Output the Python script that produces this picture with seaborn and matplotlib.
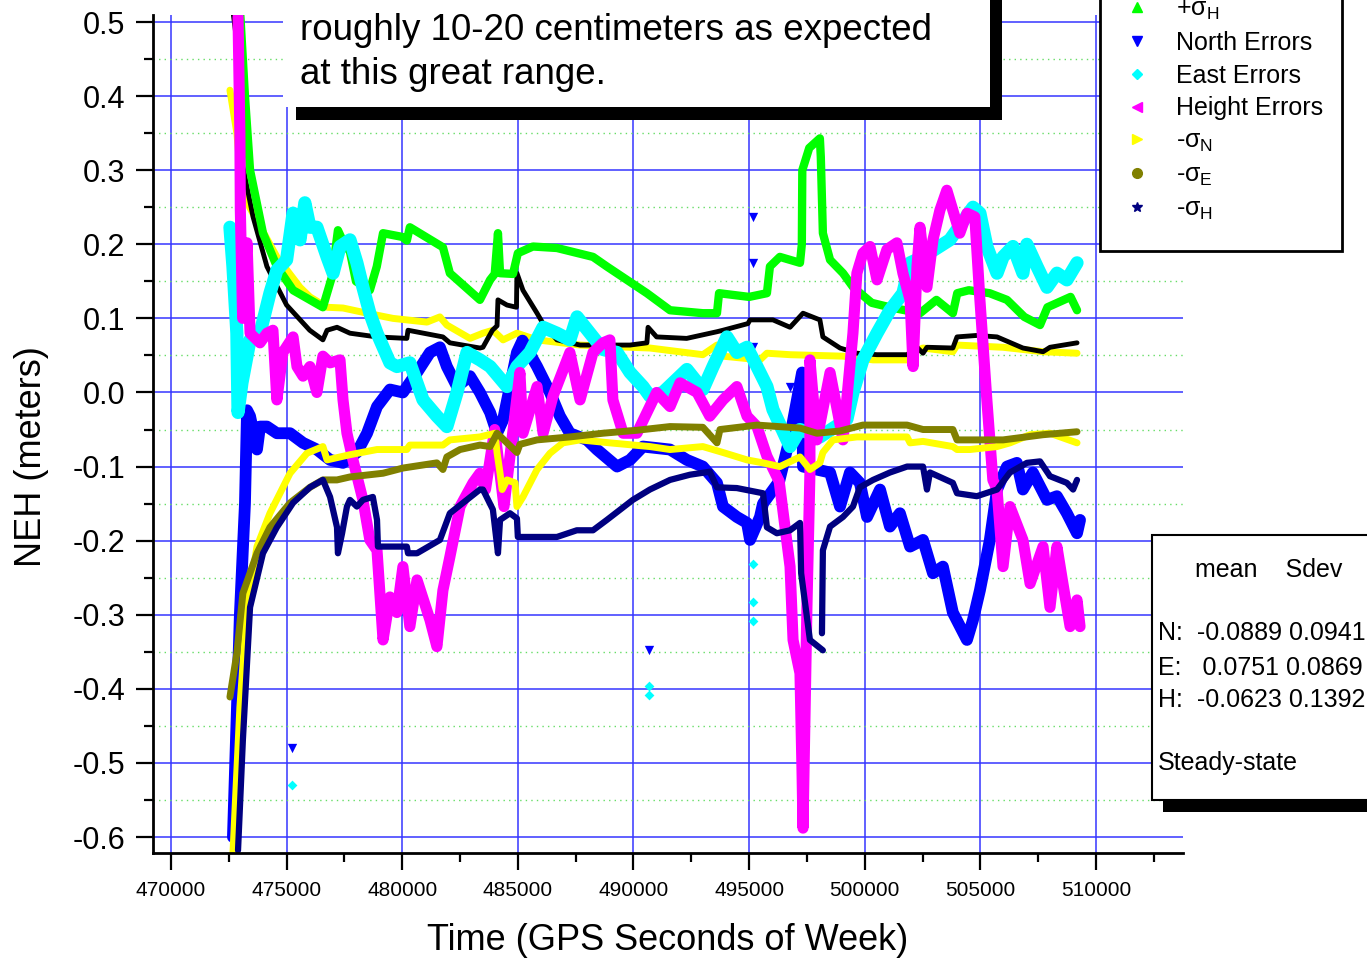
import matplotlib
matplotlib.use("Agg")
import matplotlib.pyplot as plt
from matplotlib.lines import Line2D
from matplotlib.patches import Rectangle
from matplotlib.ticker import MultipleLocator
import pandas as pd
import seaborn as sns

# ---- data: (GPS seconds of week, metres) ----
plus_sigma_n = [(472550, 0.408), (472850, 0.35), (472980, 0.304), (473400, 0.25), (474580, 0.183),
                (475580, 0.142), (476010, 0.129), (476750, 0.115), (477440, 0.114), (478480, 0.107),
                (479600, 0.1), (481070, 0.095), (481630, 0.102), (481930, 0.091), (482930, 0.073),
                (483490, 0.08), (483920, 0.084), (484360, 0.071), (484960, 0.08), (485830, 0.071),
                (487690, 0.064), (489850, 0.061), (490710, 0.06), (493000, 0.051), (493610, 0.064),
                (493870, 0.049), (495470, 0.044), (495770, 0.053), (496770, 0.051), (499060, 0.049),
                (500360, 0.044), (501830, 0.044), (501960, 0.053), (502520, 0.06), (503810, 0.055),
                (503990, 0.064), (505980, 0.061), (507710, 0.055), (509180, 0.053)]

plus_sigma_e = [(472700, 0.51), (472980, 0.44), (473110, 0.305), (473550, 0.237), (474150, 0.17),
                (475000, 0.118), (476000, 0.084), (476570, 0.071), (476750, 0.084), (477180, 0.088),
                (477740, 0.08), (478900, 0.075), (480200, 0.073), (480250, 0.084), (481760, 0.075),
                (482060, 0.067), (483360, 0.06), (483490, 0.061), (483900, 0.084), (484100, 0.09),
                (484140, 0.125), (484530, 0.118), (484940, 0.115), (484960, 0.161), (485220, 0.138),
                (485830, 0.107), (486090, 0.093), (486690, 0.071), (487690, 0.064), (489850, 0.064),
                (490580, 0.067), (490630, 0.088), (491000, 0.075), (492300, 0.073), (493610, 0.082),
                (493870, 0.084), (494950, 0.093), (495040, 0.098), (496030, 0.098), (496770, 0.088),
                (497330, 0.107), (498060, 0.098), (498190, 0.075), (498930, 0.06), (499660, 0.053),
                (500530, 0.051), (501830, 0.051), (502260, 0.061), (502520, 0.053), (502690, 0.061),
                (503810, 0.06), (503990, 0.075), (504850, 0.077), (505720, 0.075), (506840, 0.06),
                (507710, 0.055), (508010, 0.061), (509180, 0.067)]

plus_sigma_h = [(472980, 0.52), (473200, 0.40), (473420, 0.30), (473980, 0.215), (474580, 0.17),
                (475280, 0.138), (476570, 0.115), (476960, 0.156), (477220, 0.219), (477500, 0.20),
                (477740, 0.19), (478000, 0.15), (478600, 0.138), (478900, 0.17), (479170, 0.215),
                (480000, 0.21), (480200, 0.205), (480330, 0.223), (481760, 0.196), (482060, 0.161),
                (483360, 0.125), (483800, 0.152), (484000, 0.16), (484140, 0.215), (484230, 0.161),
                (484790, 0.16), (485000, 0.188), (485650, 0.197), (486690, 0.195), (488250, 0.183),
                (488850, 0.17), (490580, 0.134), (491580, 0.111), (493000, 0.107), (493610, 0.107),
                (493700, 0.134), (495000, 0.129), (495770, 0.134), (495900, 0.17), (496330, 0.183),
                (497200, 0.175), (497280, 0.20), (497300, 0.30), (497600, 0.33), (498060, 0.343),
                (498100, 0.318), (498190, 0.215), (498500, 0.179), (499060, 0.161), (499500, 0.142),
                (500300, 0.121), (501090, 0.115), (502390, 0.107), (503100, 0.125), (503810, 0.107),
                (504000, 0.134), (504500, 0.138), (505400, 0.134), (506150, 0.125), (506900, 0.102),
                (507580, 0.091), (507900, 0.115), (508900, 0.129), (509180, 0.111)]

north_err = [(472680, -0.6), (472980, -0.3), (473200, -0.15), (473290, -0.024), (473420, -0.032),
             (473720, -0.077), (473850, -0.046), (474150, -0.046), (474580, -0.055), (475150, -0.055),
             (475710, -0.068), (476310, -0.077), (476880, -0.091), (477440, -0.095), (478040, -0.081),
             (478480, -0.055), (478910, -0.019), (479470, 0.004), (480030, 0.0), (480640, 0.027),
             (481200, 0.054), (481630, 0.061), (481930, 0.035), (482370, 0.008), (482930, 0.022),
             (483360, 0.0), (483800, -0.027), (484100, -0.055), (484360, -0.037), (484960, 0.054),
             (485200, 0.07), (485830, 0.035), (486390, 0.0), (486820, -0.032), (487250, -0.055),
             (487990, -0.064), (488420, -0.077), (489290, -0.1), (489850, -0.091), (490410, -0.073),
             (491580, -0.077), (492310, -0.091), (493000, -0.1), (493610, -0.122), (493870, -0.154),
             (494470, -0.168), (494910, -0.176), (495040, -0.199), (495470, -0.168), (495600, -0.15),
             (496300, -0.12), (496770, -0.06), (497290, 0.027), (497330, -0.1), (498500, -0.108),
             (498930, -0.154), (499360, -0.108), (499790, -0.122), (500100, -0.168), (500660, -0.131),
             (501090, -0.181), (501520, -0.163), (501960, -0.208), (502520, -0.199), (502950, -0.244),
             (503380, -0.235), (503810, -0.297), (504420, -0.334), (504680, -0.307), (504980, -0.267),
             (505410, -0.199), (505720, -0.131), (506150, -0.1), (506580, -0.095), (506840, -0.131),
             (507270, -0.108), (507880, -0.145), (508310, -0.14), (508740, -0.163), (509180, -0.19),
             (509310, -0.172)]

east_err = [(472550, 0.223), (472680, 0.17), (472850, 0.08), (472900, -0.027), (473070, 0.013),
            (473420, 0.071), (473850, 0.08), (474280, 0.134), (474580, 0.165), (475000, 0.179),
            (475280, 0.242), (475580, 0.206), (475790, 0.256), (476010, 0.223), (476310, 0.223),
            (476750, 0.183), (477010, 0.161), (477310, 0.197), (477740, 0.206), (478040, 0.175),
            (478300, 0.142), (478600, 0.107), (478910, 0.08), (479470, 0.04), (479770, 0.035),
            (480330, 0.04), (480900, -0.01), (481500, -0.032), (481930, -0.046), (482370, 0.0),
            (482800, 0.054), (483360, 0.044), (483800, 0.035), (484530, 0.008), (484960, 0.035),
            (485520, 0.054), (486090, 0.088), (486690, 0.08), (487250, 0.071), (487560, 0.102),
            (488120, 0.08), (488680, 0.058), (489290, 0.054), (489850, 0.027), (490410, 0.008),
            (490710, -0.005), (491270, 0.0), (492310, 0.031), (493000, 0.004), (493440, 0.035),
            (494040, 0.075), (494470, 0.054), (494910, 0.061), (495340, 0.035), (495770, 0.008),
            (496030, -0.023), (496770, -0.073), (497200, -0.05), (498060, -0.06), (499230, -0.036),
            (499490, 0.0), (499920, 0.044), (500530, 0.08), (501090, 0.111), (501650, 0.134),
            (501960, 0.175), (502520, 0.183), (503680, 0.206), (504680, 0.25), (504980, 0.242),
            (505280, 0.197), (505720, 0.161), (505980, 0.183), (506410, 0.197), (506840, 0.161),
            (507010, 0.2), (507450, 0.17), (507880, 0.142), (508310, 0.161), (508740, 0.152),
            (509180, 0.175)]

height_err = [(472900, 0.507), (472980, 0.35), (473000, 0.246), (473100, 0.1), (473290, 0.202),
              (473420, 0.08), (473850, 0.067), (474150, 0.08), (474410, 0.084), (474580, -0.01),
              (474840, 0.054), (475280, 0.075), (475450, 0.035), (475710, 0.022), (476010, 0.035),
              (476310, 0.0), (476570, 0.049), (476880, 0.04), (477310, 0.044), (477440, -0.01),
              (477610, -0.055), (477870, -0.091), (478300, -0.145), (478600, -0.199), (478910, -0.213),
              (479170, -0.334), (479470, -0.276), (479770, -0.297), (480030, -0.235), (480330, -0.316),
              (480640, -0.253), (481200, -0.307), (481500, -0.343), (481760, -0.267), (482060, -0.222),
              (482500, -0.154), (483060, -0.122), (483360, -0.109), (483600, -0.131), (484000, -0.05),
              (484400, -0.154), (485090, 0.027), (485220, -0.055), (485830, 0.008), (486090, -0.055),
              (486520, -0.005), (487250, 0.054), (487690, -0.01), (488250, 0.054), (488680, 0.067),
              (488980, 0.071), (489110, -0.01), (489550, -0.055), (490150, -0.055), (491000, 0.0),
              (491580, -0.019), (492010, 0.013), (492750, 0.0), (493300, -0.032), (493870, -0.01),
              (494470, 0.008), (494910, -0.032), (495340, -0.046), (495770, -0.086), (496300, -0.12),
              (496770, -0.235), (496900, -0.334), (497200, -0.379), (497290, -0.514), (497330, -0.588),
              (497500, -0.29), (497630, -0.108), (497630, 0.044), (497930, -0.064), (498500, 0.027),
              (499060, -0.064), (499490, 0.08), (499660, 0.161), (499920, 0.188), (500230, 0.197),
              (500530, 0.152), (500960, 0.193), (501390, 0.202), (501650, 0.161), (501960, 0.125),
              (502090, 0.035), (502260, 0.17), (502390, 0.223), (502690, 0.142), (502950, 0.206),
              (503250, 0.246), (503550, 0.273), (503810, 0.246), (504110, 0.215), (504420, 0.242),
              (504760, 0.237), (504980, 0.125), (505280, -0.01), (505540, -0.118), (505720, -0.131),
              (505980, -0.235), (506280, -0.154), (506840, -0.199), (507150, -0.258), (507710, -0.208),
              (508010, -0.29), (508310, -0.208), (508570, -0.258), (508880, -0.316), (509180, -0.28),
              (509310, -0.316)]

minus_sigma_n = [(472680, -0.622), (472980, -0.425), (473290, -0.29), (473720, -0.208), (474280, -0.163),
                 (475150, -0.109), (475880, -0.082), (476570, -0.073), (476750, -0.091), (477740, -0.084),
                 (478910, -0.077), (480200, -0.077), (480330, -0.071), (481760, -0.071), (482060, -0.064),
                 (483360, -0.06), (484010, -0.055), (484100, -0.081), (484230, -0.109), (484320, -0.131),
                 (484530, -0.118), (484880, -0.122), (484960, -0.154), (485220, -0.141), (485830, -0.104),
                 (486390, -0.082), (486950, -0.068), (487690, -0.064), (488980, -0.068), (490710, -0.073),
                 (491580, -0.077), (493000, -0.073), (493870, -0.081), (494910, -0.091), (495600, -0.095),
                 (496330, -0.1), (497200, -0.087), (497630, -0.104), (498060, -0.095), (498190, -0.081),
                 (498630, -0.064), (499660, -0.06), (501830, -0.06), (501960, -0.068), (502520, -0.066),
                 (503810, -0.073), (503990, -0.077), (504550, -0.077), (505720, -0.073), (506280, -0.068),
                 (507150, -0.057), (508010, -0.055), (509180, -0.068)]

minus_sigma_e = [(472550, -0.411), (472850, -0.352), (473110, -0.271), (473720, -0.217), (474280, -0.182),
                 (475150, -0.149), (476010, -0.128), (476570, -0.118), (477180, -0.118), (477740, -0.114),
                 (479170, -0.109), (480030, -0.102), (481500, -0.095), (481760, -0.104), (481930, -0.087),
                 (482500, -0.077), (483360, -0.071), (483800, -0.073), (484100, -0.055), (484960, -0.081),
                 (485090, -0.07), (485830, -0.064), (487250, -0.06), (488680, -0.055), (490150, -0.051),
                 (491580, -0.046), (493000, -0.047), (493610, -0.068), (493740, -0.05), (495340, -0.044),
                 (497200, -0.048), (497930, -0.055), (498930, -0.052), (499920, -0.044), (501830, -0.044),
                 (502520, -0.05), (503810, -0.05), (503990, -0.064), (505980, -0.064), (507710, -0.057),
                 (509180, -0.053)]

minus_sigma_h_a = [(472900, -0.618), (473110, -0.469), (473420, -0.29), (473980, -0.217), (474580, -0.182),
                   (475280, -0.149), (476010, -0.128), (476570, -0.118), (476880, -0.141), (477180, -0.182),
                   (477220, -0.217), (477400, -0.19), (477610, -0.154), (477740, -0.145), (478040, -0.154),
                   (478300, -0.145), (478730, -0.141), (478910, -0.172), (478950, -0.208), (480200, -0.208),
                   (480250, -0.217), (480640, -0.217), (481630, -0.199), (482060, -0.163), (483360, -0.131),
                   (483490, -0.131), (483920, -0.158), (484140, -0.217), (484230, -0.172), (484660, -0.163),
                   (484960, -0.17), (485000, -0.195), (486690, -0.195), (487550, -0.186), (488250, -0.186),
                   (488850, -0.172), (489970, -0.145), (490710, -0.131), (491580, -0.118), (492440, -0.111),
                   (493300, -0.107), (493610, -0.128), (494470, -0.129), (495600, -0.136), (495770, -0.182),
                   (496200, -0.19), (496770, -0.186), (497200, -0.176), (497250, -0.244), (497630, -0.334),
                   (498190, -0.348)]

minus_sigma_h_b = [(498150, -0.325), (498190, -0.213), (498500, -0.181), (499060, -0.168), (499490, -0.154),
                   (499790, -0.128), (500360, -0.118), (501090, -0.108), (501830, -0.1), (502520, -0.1),
                   (502690, -0.131), (502820, -0.108), (503810, -0.122), (503990, -0.136), (504850, -0.14),
                   (505720, -0.131), (506280, -0.108), (507010, -0.095), (507580, -0.093), (508010, -0.113),
                   (508740, -0.122), (509010, -0.131), (509180, -0.118)]

north_outliers = [(475230, -0.48), (490670, -0.348), (495170, 0.237), (495170, 0.175), (495170, 0.061),
                  (496770, 0.008)]
east_outliers = [(475230, -0.53), (490670, -0.396), (490670, -0.408), (495170, -0.232), (495170, -0.283),
                 (495170, -0.308)]

x_ticks = [470000, 475000, 480000, 485000, 490000, 495000, 500000, 505000, 510000]
x_tick_labels = ["470000", "475000", "480000", "485000", "490000", "495000", "500000", "505000", "510000"]
y_ticks = [0.5, 0.4, 0.3, 0.2, 0.1, 0.0, -0.1, -0.2, -0.3, -0.4, -0.5, -0.6]
y_tick_labels = ["0.5", "0.4", "0.3", "0.2", "0.1", "0.0", "-0.1", "-0.2", "-0.3", "-0.4", "-0.5", "-0.6"]

# only the legend rows that are visible in the picture
legend_labels = [r"+$\sigma_{\mathrm{H}}$", "North Errors", "East Errors", "Height Errors",
                 r"-$\sigma_{\mathrm{N}}$", r"-$\sigma_{\mathrm{E}}$", r"-$\sigma_{\mathrm{H}}$"]
stats_header = "mean    Sdev"
stats_rows = ["N:  -0.0889 0.0941", "E:   0.0751 0.0869", "H:  -0.0623 0.1392"]
note_lines = ["roughly 10-20 centimeters as expected", "at this great range."]

# ---- style ----
sns.set_style("ticks")
plt.rcParams['font.family'] = ['Liberation Sans', 'DejaVu Sans']
plt.rcParams['mathtext.fontset'] = 'custom'
plt.rcParams['mathtext.rm'] = 'Liberation Sans'
plt.rcParams['mathtext.it'] = 'Liberation Sans'
for key in ['text.color', 'axes.labelcolor', 'xtick.color', 'ytick.color']:
    plt.rcParams[key] = 'black'

fig = plt.figure(figsize=(13.67, 9.59), dpi=100)
ax = fig.add_axes([0.1119, 0.1105, 0.7535, 0.8738])

series = [
    (plus_sigma_n, "#ffff00", 5),
    (plus_sigma_e, "black", 3.5),
    (plus_sigma_h, "#00ff00", 6),
    (north_err, "#0000ff", 8.5),
    (east_err, "#00ffff", 9.5),
    (height_err, "#ff00ff", 8),
    (minus_sigma_n, "#ffff00", 5),
    (minus_sigma_e, "#808000", 5),
    (minus_sigma_h_a, "#000080", 4.5),
    (minus_sigma_h_b, "#000080", 4.5),
]
for pts, col, lw in series:
    df = pd.DataFrame(pts, columns=["t", "v"])
    sns.lineplot(data=df, x="t", y="v", color=col, linewidth=lw, sort=False,
                 estimator=None, ax=ax)

df_n = pd.DataFrame(north_outliers, columns=["t", "v"])
df_e = pd.DataFrame(east_outliers, columns=["t", "v"])
sns.scatterplot(data=df_n, x="t", y="v", marker="v", color="#0000ff", s=45, linewidth=0, ax=ax)
sns.scatterplot(data=df_e, x="t", y="v", marker="D", color="#00ffff", s=25, linewidth=0, ax=ax)

ax.set_xlim(469222, 513762)
ax.set_ylim(-0.6216, 0.5094)
ax.set_xticks(x_ticks, labels=x_tick_labels)
ax.set_yticks(y_ticks, labels=y_tick_labels)
ax.xaxis.set_minor_locator(MultipleLocator(2500))
ax.yaxis.set_minor_locator(MultipleLocator(0.05))

ax.set_axisbelow(True)
ax.grid(which="major", color="#3535ff", linewidth=1.1)
ax.grid(which="minor", axis="y", color="#66dd66", linewidth=1.0, linestyle=(0, (1, 3)))

for side in ["top", "right"]:
    ax.spines[side].set_visible(False)
for side in ["left", "bottom"]:
    ax.spines[side].set_linewidth(2)
    ax.spines[side].set_color("black")

ax.tick_params(which="major", direction="out", length=12, width=1.6, color="black")
ax.tick_params(which="minor", direction="out", length=6.5, width=1.6, color="black")
ax.tick_params(axis="x", labelsize=15, pad=8)
ax.tick_params(axis="y", labelsize=22, pad=8)

ax.set_xlabel("Time (GPS Seconds of Week)", fontsize=26)
ax.set_ylabel("NEH (meters)", fontsize=26)
ax.xaxis.set_label_coords(0.5, -0.084)
ax.yaxis.set_label_coords(-0.101, 0.4726)

# legend box: its frame runs off the top of the figure, as in the original
fig.add_artist(Rectangle((0.8047, 0.7383), 0.1770, 0.3, transform=fig.transFigure,
                         facecolor="white", edgecolor="black", linewidth=2, zorder=4))
handles = [Line2D([], [], marker=m, color=c, linestyle="none", markersize=7)
           for m, c in [("^", "#00ff00"), ("v", "#0000ff"), ("D", "#00ffff"), ("<", "#ff00ff"),
                        (">", "#ffff00"), ("o", "#808000"), ("*", "#000080")]]
handles[2].set_markersize(5)
leg = fig.legend(handles, legend_labels, loc="lower left", bbox_to_anchor=(0.8047, 0.7383),
                 frameon=False, fontsize=18, borderpad=1.15, handlelength=0.66, handletextpad=1.23,
                 labelspacing=0.35, borderaxespad=0)
leg.set_zorder(8)

# annotation box with shadow
fig.add_artist(Rectangle((0.2165, 0.8749), 0.5165, 0.2, transform=fig.transFigure,
                         facecolor="black", edgecolor="none", zorder=5))
fig.add_artist(Rectangle((0.2070, 0.8884), 0.5172, 0.2, transform=fig.transFigure,
                         facecolor="white", edgecolor="none", zorder=6))
fig.text(0.2195, 0.9687, note_lines[0], fontsize=26.5, va="center", zorder=7)
fig.text(0.2195, 0.9218, note_lines[1], fontsize=26.5, va="center", zorder=7)

# statistics box with shadow
fig.add_artist(Rectangle((0.8508, 0.1533), 0.2, 0.2763, transform=fig.transFigure,
                         facecolor="black", edgecolor="none", zorder=5))
fig.add_artist(Rectangle((0.8427, 0.1658), 0.2, 0.2763, transform=fig.transFigure,
                         facecolor="white", edgecolor="black", linewidth=1.5, zorder=6))
fig.text(0.8740, 0.4056, stats_header, fontsize=18, va="center", zorder=7)
for yy, row in zip([0.3399, 0.3034, 0.2701], stats_rows):
    fig.text(0.8471, yy, row, fontsize=18, va="center", zorder=7)
fig.text(0.8471, 0.2044, "Steady-state", fontsize=18, va="center", zorder=7)

fig.savefig("out.png", dpi=100)
